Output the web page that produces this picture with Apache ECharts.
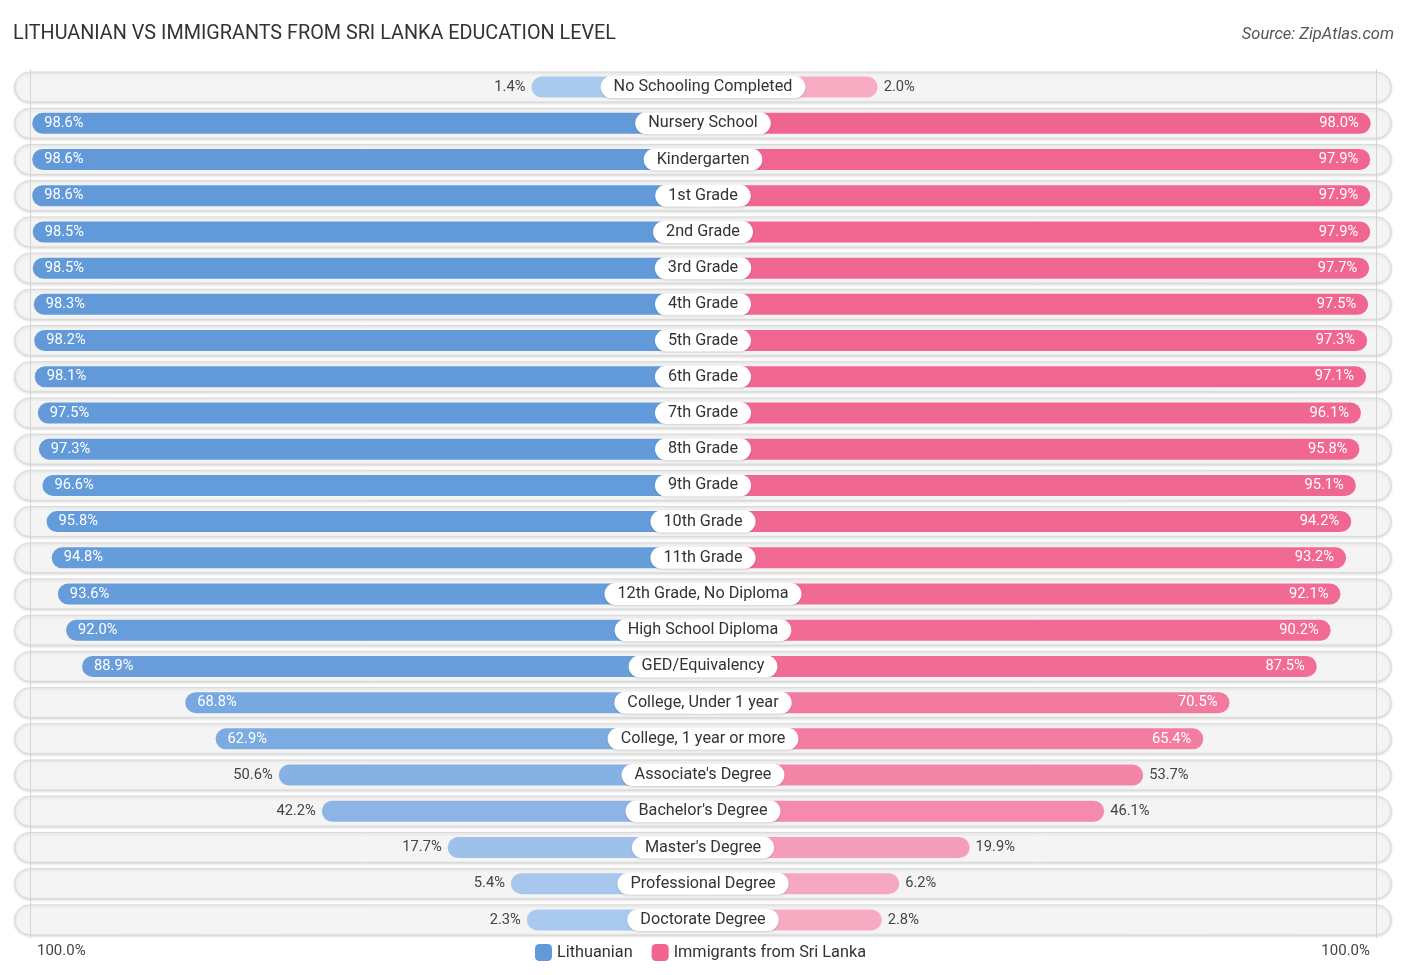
<!DOCTYPE html>
<html>
<head>
<meta charset="utf-8">
<title>Lithuanian vs Immigrants from Sri Lanka Education Level</title>
<script src="https://cdn.jsdelivr.net/npm/echarts@6/dist/echarts.min.js"></script>
<style>
  html, body { margin: 0; padding: 0; background: #fff; }
  #chart { width: 1406px; height: 975px; }
</style>
</head>
<body>
<div id="chart"></div>
<script>
const categories = [
    "No Schooling Completed", "Nursery School", "Kindergarten", "1st Grade", "2nd Grade",
    "3rd Grade", "4th Grade", "5th Grade", "6th Grade", "7th Grade", "8th Grade", "9th Grade",
    "10th Grade", "11th Grade", "12th Grade, No Diploma", "High School Diploma",
    "GED/Equivalency", "College, Under 1 year", "College, 1 year or more",
    "Associate's Degree", "Bachelor's Degree", "Master's Degree", "Professional Degree",
    "Doctorate Degree"
];
const lithuanian = [1.4, 98.6, 98.6, 98.6, 98.5, 98.5, 98.3, 98.2, 98.1, 97.5, 97.3, 96.6,
    95.8, 94.8, 93.6, 92.0, 88.9, 68.8, 62.9, 50.6, 42.2, 17.7, 5.4, 2.3];
const sriLanka = [2.0, 98.0, 97.9, 97.9, 97.9, 97.7, 97.5, 97.3, 97.1, 96.1, 95.8, 95.1,
    94.2, 93.2, 92.1, 90.2, 87.5, 70.5, 65.4, 53.7, 46.1, 19.9, 6.2, 2.8];
const edgeLabels = ["100.0%", "100.0%"];

// bars start behind the centre label, so every bar gets a fixed offset
const OFFSET = 32;
const AXIS_MAX = 132;
const BG_MAX = 134;
const INSIDE_MIN = 60;

const FONT = "Roboto, 'Noto Sans', sans-serif";
const BLUE = "#6199d9", BLUE_LIGHT = "#abcaee";
const PINK = "#f0648f", PINK_LIGHT = "#f7adc4";

function mix(a, b, t) {
    const pa = [1, 3, 5].map(i => parseInt(a.substr(i, 2), 16));
    const pb = [1, 3, 5].map(i => parseInt(b.substr(i, 2), 16));
    const c = pa.map((v, i) => Math.round(v + (pb[i] - v) * t));
    return "rgb(" + c.join(",") + ")";
}

function barData(values, sign, light, dark) {
    return values.map(function (v) {
        const inside = v > INSIDE_MIN;
        return {
            value: sign * (v + OFFSET),
            itemStyle: { color: mix(light, dark, v / 100) },
            label: {
                position: sign < 0 ? (inside ? "insideLeft" : "left") : (inside ? "insideRight" : "right"),
                distance: inside ? 12 : 6,
                color: inside ? "#fff" : "#444"
            }
        };
    });
}

const chart = echarts.init(document.getElementById("chart"));
chart.setOption({
    animation: false,
    title: [
        {
            text: "LITHUANIAN VS IMMIGRANTS FROM SRI LANKA EDUCATION LEVEL",
            left: 13, top: 24, padding: 0,
            textStyle: { fontFamily: FONT, fontSize: 19.8, fontWeight: "normal", color: "#333" }
        },
        {
            text: "Source: ZipAtlas.com",
            right: 12, top: 26, padding: 0,
            textStyle: { fontFamily: FONT, fontSize: 16.5, fontStyle: "italic", fontWeight: "normal", color: "#555" }
        }
    ],
    legend: {
        data: ["Lithuanian", "Immigrants from Sri Lanka"],
        left: 530, top: 939,
        icon: "roundRect",
        itemWidth: 17, itemHeight: 17, itemGap: 19,
        textStyle: { fontFamily: FONT, fontSize: 16.3, color: "#333" }
    },
    graphic: [
        { type: "text", left: 37, top: 944, style: { text: edgeLabels[0], font: "15px " + FONT, fill: "#444" } },
        { type: "text", right: 36, top: 944, style: { text: edgeLabels[1], font: "15px " + FONT, fill: "#444" } }
    ],
    grid: { left: 25, right: 25, top: 69, bottom: 37 },
    xAxis: { type: "value", min: -AXIS_MAX, max: AXIS_MAX, show: false },
    yAxis: { type: "category", data: categories, inverse: true, show: false },
    series: [
        {
            type: "custom",
            silent: true,
            clip: false,
            z: 1,
            encode: { x: [0, 1], y: 2 },
            data: categories.map((c, i) => [-BG_MAX, BG_MAX, i]),
            renderItem: function (params, api) {
                const l = api.coord([api.value(0), api.value(2)]);
                const r = api.coord([api.value(1), api.value(2)]);
                return {
                    type: "rect",
                    shape: { x: l[0], y: l[1] - 15, width: r[0] - l[0], height: 30, r: 15 },
                    style: {
                        fill: "#f4f4f4", stroke: "#d9d9d9", lineWidth: 1,
                        shadowBlur: 3, shadowOffsetY: 1, shadowColor: "rgba(0,0,0,0.15)"
                    }
                };
            }
        },
        {
            name: "Lithuanian",
            type: "bar",
            z: 3,
            barWidth: 21,
            barGap: "-100%",
            itemStyle: { color: BLUE, borderRadius: 10.5 },
            label: {
                show: true, fontFamily: FONT, fontSize: 14.7,
                formatter: p => lithuanian[p.dataIndex].toFixed(1) + "%"
            },
            markLine: {
                silent: true, symbol: "none", label: { show: false },
                lineStyle: { color: "#d4d4d4", type: "solid", width: 1 },
                data: [{ xAxis: -131 }, { xAxis: 131 }]
            },
            data: barData(lithuanian, -1, BLUE_LIGHT, BLUE)
        },
        {
            name: "Immigrants from Sri Lanka",
            type: "bar",
            z: 3,
            barWidth: 21,
            barGap: "-100%",
            itemStyle: { color: PINK, borderRadius: 10.5 },
            label: {
                show: true, fontFamily: FONT, fontSize: 14.7,
                formatter: p => sriLanka[p.dataIndex].toFixed(1) + "%"
            },
            data: barData(sriLanka, 1, PINK_LIGHT, PINK)
        },
        {
            type: "scatter",
            z: 5,
            silent: true,
            symbolSize: 0,
            itemStyle: { opacity: 1 },
            data: categories.map((c, i) => [0, i]),
            label: {
                show: true,
                position: "inside",
                formatter: p => categories[p.dataIndex],
                fontFamily: FONT, fontSize: 16.2, color: "#333",
                backgroundColor: "#fff",
                borderRadius: 12,
                padding: [3, 13],
                shadowBlur: 2, shadowColor: "rgba(0,0,0,0.15)", shadowOffsetY: 1
            }
        }
    ]
});

window.addEventListener("resize", function () {
    chart.resize();
});
</script>
</body>
</html>
